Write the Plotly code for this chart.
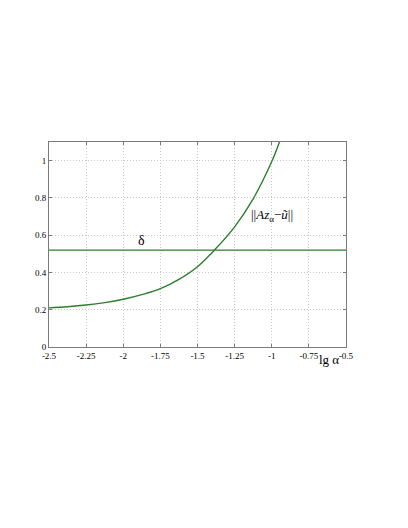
import plotly.graph_objects as go

# data
lg_alpha = [-2.5, -2.375, -2.25, -2.125, -2.0, -1.875, -1.75, -1.625, -1.5,
            -1.386, -1.25, -1.125, -1.0, -0.948]
norm_vals = [0.21, 0.216, 0.225, 0.238, 0.256, 0.281, 0.313, 0.363, 0.431,
             0.52, 0.645, 0.795, 0.995, 1.10]
delta_x = [-2.5, -0.5]
delta_y = [0.52, 0.52]

x_ticks = [-2.5, -2.25, -2.0, -1.75, -1.5, -1.25, -1.0, -0.75, -0.5]
x_ticktext = ["-2.5", "-2.25", "-2", "-1.75", "-1.5", "-1.25", "-1", "-0.75", "-0.5"]
y_ticks = [0, 0.2, 0.4, 0.6, 0.8, 1.0]
y_ticktext = ["0", "0.2", "0.4", "0.6", "0.8", "1"]

green = "#2e7d2e"
serif = "Liberation Serif"

fig = go.Figure()
fig.add_trace(go.Scatter(x=lg_alpha, y=norm_vals, mode="lines",
                         line=dict(color=green, width=1.4, shape="spline", smoothing=1.0),
                         hoverinfo="skip"))
fig.add_trace(go.Scatter(x=delta_x, y=delta_y, mode="lines",
                         line=dict(color=green, width=1.4), hoverinfo="skip"))

axis_common = dict(
    showline=True, linecolor="#7a7a7a", linewidth=1, mirror="ticks",
    ticks="inside", ticklen=3, tickcolor="#7a7a7a",
    showgrid=True, gridcolor="#c8c8c8", griddash="1px,2px", gridwidth=1,
    zeroline=False, automargin=False,
    tickfont=dict(family=serif, size=9, color="#000"),
)

fig.update_layout(
    width=408, height=528,
    margin=dict(l=41, r=70, t=134, b=189),
    paper_bgcolor="white", plot_bgcolor="white",
    showlegend=False,
    xaxis=dict(range=[-2.5, -0.5], tickvals=x_ticks, ticktext=x_ticktext, **axis_common),
    yaxis=dict(range=[0, 1.1], tickvals=y_ticks, ticktext=y_ticktext, **axis_common),
    annotations=[
        dict(x=-1.88, y=0.52, xref="x", yref="y", text="δ", showarrow=False,
             yanchor="bottom", yshift=0, font=dict(family=serif, size=14, color="#000")),
        dict(x=-1.0, y=0.705, xref="x", yref="y",
             text="||<i>Az</i><sub>α</sub>−<i>ũ</i>||", showarrow=False,
             font=dict(family=serif, size=13, color="#000")),
        dict(x=-0.615, y=0, xref="x", yref="y", text="lg α", showarrow=False,
             yanchor="top", yshift=-3, font=dict(family=serif, size=13, color="#000")),
    ],
)

fig.write_html("out.html")
